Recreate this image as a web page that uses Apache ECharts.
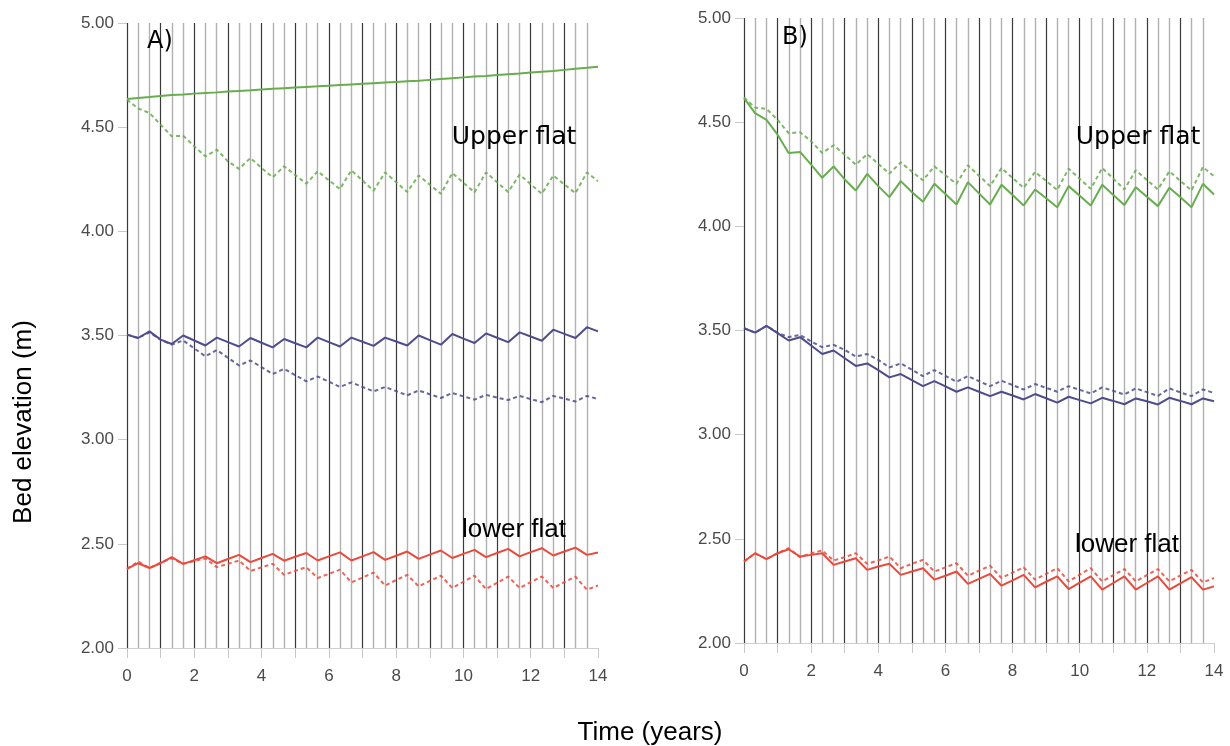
<!DOCTYPE html>
<html>
<head>
<meta charset="utf-8">
<title>Bed elevation</title>
<script src="https://cdn.jsdelivr.net/npm/echarts@6/dist/echarts.min.js"></script>
<style>
  html, body { margin: 0; padding: 0; background: #fff; }
  #chart { width: 1230px; height: 746px; }
</style>
</head>
<body>
<div id="chart"></div>
<script>
// time steps (years), one every 1/3 year
var time = [0, 0.33, 0.67, 1, 1.33, 1.67, 2, 2.33, 2.67, 3, 3.33, 3.67, 4, 4.33, 4.67,
  5, 5.33, 5.67, 6, 6.33, 6.67, 7, 7.33, 7.67, 8, 8.33, 8.67, 9, 9.33, 9.67,
  10, 10.33, 10.67, 11, 11.33, 11.67, 12, 12.33, 12.67, 13, 13.33, 13.67, 14];

var xTicks = [0, 2, 4, 6, 8, 10, 12, 14];
var yTicks = [2.00, 2.50, 3.00, 3.50, 4.00, 4.50, 5.00];

// panel A
var aUpperSolid = [4.635, 4.640, 4.645, 4.650, 4.654, 4.657, 4.661, 4.664, 4.667, 4.671, 4.674, 4.677, 4.681, 4.684, 4.687,
  4.690, 4.693, 4.696, 4.699, 4.702, 4.705, 4.708, 4.711, 4.714, 4.717, 4.720, 4.723, 4.727, 4.731, 4.735,
  4.739, 4.743, 4.746, 4.750, 4.754, 4.758, 4.762, 4.766, 4.770, 4.775, 4.780, 4.785, 4.790];
var aUpperDash = [4.632, 4.590, 4.568, 4.512, 4.456, 4.459, 4.408, 4.360, 4.392, 4.336, 4.300, 4.352, 4.304, 4.259, 4.312,
  4.270, 4.229, 4.288, 4.245, 4.203, 4.293, 4.244, 4.195, 4.283, 4.236, 4.189, 4.268, 4.224, 4.180, 4.280,
  4.233, 4.187, 4.283, 4.236, 4.189, 4.272, 4.226, 4.180, 4.268, 4.225, 4.183, 4.283, 4.240];
var aMidSolid = [3.504, 3.488, 3.520, 3.480, 3.459, 3.500, 3.476, 3.452, 3.490, 3.468, 3.447, 3.488, 3.465, 3.443, 3.483,
  3.463, 3.443, 3.490, 3.468, 3.447, 3.490, 3.470, 3.450, 3.490, 3.471, 3.452, 3.500, 3.478, 3.456, 3.507,
  3.485, 3.464, 3.510, 3.489, 3.468, 3.515, 3.495, 3.475, 3.528, 3.508, 3.488, 3.540, 3.520];
var aMidDash = [3.504, 3.488, 3.515, 3.480, 3.456, 3.476, 3.438, 3.400, 3.430, 3.393, 3.356, 3.380, 3.348, 3.315, 3.340,
  3.310, 3.280, 3.303, 3.278, 3.253, 3.275, 3.253, 3.232, 3.253, 3.233, 3.213, 3.236, 3.218, 3.200, 3.224,
  3.208, 3.192, 3.215, 3.202, 3.190, 3.210, 3.195, 3.180, 3.210, 3.197, 3.183, 3.210, 3.195];
var aLowerSolid = [2.380, 2.407, 2.384, 2.407, 2.436, 2.404, 2.422, 2.440, 2.407, 2.427, 2.447, 2.412, 2.432, 2.452, 2.419,
  2.438, 2.456, 2.420, 2.440, 2.459, 2.420, 2.440, 2.460, 2.423, 2.443, 2.463, 2.428, 2.448, 2.468, 2.432,
  2.452, 2.471, 2.436, 2.456, 2.476, 2.440, 2.460, 2.479, 2.444, 2.463, 2.482, 2.447, 2.458];
var aLowerDash = [2.380, 2.415, 2.384, 2.410, 2.430, 2.404, 2.417, 2.430, 2.388, 2.404, 2.420, 2.370, 2.387, 2.404, 2.351,
  2.370, 2.388, 2.336, 2.356, 2.376, 2.315, 2.338, 2.362, 2.300, 2.326, 2.351, 2.296, 2.322, 2.347, 2.288,
  2.318, 2.347, 2.283, 2.313, 2.343, 2.288, 2.316, 2.343, 2.288, 2.316, 2.343, 2.280, 2.300];

// panel B
var bUpperSolid = [4.615, 4.543, 4.511, 4.440, 4.352, 4.357, 4.296, 4.233, 4.288, 4.225, 4.172, 4.252, 4.193, 4.140, 4.217,
  4.165, 4.118, 4.204, 4.155, 4.105, 4.212, 4.158, 4.105, 4.200, 4.150, 4.100, 4.177, 4.135, 4.092, 4.193,
  4.147, 4.100, 4.200, 4.150, 4.102, 4.188, 4.142, 4.097, 4.185, 4.140, 4.092, 4.204, 4.153];
var bUpperDash = [4.618, 4.570, 4.564, 4.511, 4.447, 4.452, 4.408, 4.352, 4.389, 4.344, 4.296, 4.347, 4.300, 4.253, 4.307,
  4.263, 4.221, 4.288, 4.245, 4.204, 4.293, 4.243, 4.193, 4.280, 4.232, 4.185, 4.261, 4.218, 4.174, 4.277,
  4.228, 4.180, 4.280, 4.229, 4.177, 4.269, 4.223, 4.177, 4.264, 4.218, 4.172, 4.285, 4.240];
var bMidSolid = [3.511, 3.490, 3.522, 3.487, 3.452, 3.468, 3.428, 3.387, 3.404, 3.367, 3.330, 3.342, 3.310, 3.275, 3.291,
  3.262, 3.233, 3.257, 3.232, 3.206, 3.227, 3.206, 3.185, 3.206, 3.188, 3.169, 3.195, 3.175, 3.154, 3.182,
  3.166, 3.150, 3.177, 3.162, 3.146, 3.174, 3.160, 3.145, 3.177, 3.162, 3.146, 3.174, 3.160];
var bMidDash = [3.511, 3.490, 3.522, 3.490, 3.468, 3.479, 3.447, 3.420, 3.431, 3.407, 3.375, 3.387, 3.359, 3.323, 3.342,
  3.312, 3.281, 3.310, 3.282, 3.254, 3.281, 3.257, 3.233, 3.259, 3.238, 3.217, 3.243, 3.225, 3.206, 3.233,
  3.215, 3.198, 3.227, 3.210, 3.193, 3.222, 3.204, 3.186, 3.222, 3.203, 3.185, 3.217, 3.200];
var bLowerSolid = [2.391, 2.431, 2.403, 2.431, 2.450, 2.415, 2.423, 2.431, 2.375, 2.391, 2.407, 2.351, 2.367, 2.380, 2.327,
  2.343, 2.359, 2.304, 2.323, 2.343, 2.284, 2.308, 2.332, 2.275, 2.301, 2.327, 2.267, 2.294, 2.320, 2.259,
  2.290, 2.320, 2.256, 2.288, 2.320, 2.256, 2.288, 2.320, 2.256, 2.286, 2.316, 2.256, 2.272];
var bLowerDash = [2.391, 2.431, 2.403, 2.431, 2.455, 2.412, 2.431, 2.444, 2.396, 2.412, 2.431, 2.380, 2.396, 2.415, 2.359,
  2.380, 2.399, 2.343, 2.363, 2.383, 2.323, 2.347, 2.371, 2.312, 2.338, 2.363, 2.304, 2.332, 2.359, 2.296,
  2.328, 2.359, 2.296, 2.326, 2.355, 2.296, 2.326, 2.355, 2.296, 2.324, 2.351, 2.291, 2.312];

var GREEN = '#67ad4e';
var BLUE = '#4e4d8c';
var RED = '#ea4a3c';

function pairs(vals) {
  var out = [];
  for (var i = 0; i < time.length; i++) {
    out.push([time[i], vals[i]]);
  }
  return out;
}

function makeSeries(idx, vals, color, dashed) {
  return {
    type: 'line',
    xAxisIndex: idx,
    yAxisIndex: idx,
    data: pairs(vals),
    showSymbol: false,
    silent: true,
    z: 5,
    lineStyle: {
      color: color,
      width: 2,
      type: dashed ? [4, 3] : 'solid',
      opacity: dashed ? 0.85 : 1
    }
  };
}

function makeX(idx) {
  return {
    type: 'value',
    gridIndex: idx,
    min: 0,
    max: 14,
    interval: 1,
    axisLine: { show: true, lineStyle: { color: '#cfcfcf', width: 1 } },
    axisTick: { show: true, length: 10, lineStyle: { color: '#c8c8c8' } },
    axisLabel: {
      margin: 20,
      color: '#4a4a4a',
      fontSize: 17,
      fontFamily: 'Liberation Sans, Arial, sans-serif',
      formatter: function (v) {
        return xTicks.indexOf(v) >= 0 ? String(v) : '';
      }
    },
    splitLine: {
      show: true,
      showMaxLine: false,
      lineStyle: { color: '#3a3a3a', width: 1.2 }
    },
    minorTick: { show: false, splitNumber: 3 },
    minorSplitLine: {
      show: true,
      lineStyle: { color: '#b0b0b0', width: 1.4 }
    }
  };
}

function makeY(idx) {
  return {
    type: 'value',
    gridIndex: idx,
    min: 2,
    max: 5,
    interval: 0.5,
    axisLine: { show: false },
    axisTick: { show: true, length: 9, lineStyle: { color: '#c8c8c8' } },
    axisLabel: {
      margin: 13,
      color: '#4a4a4a',
      fontSize: 17,
      fontFamily: 'Liberation Sans, Arial, sans-serif',
      formatter: function (v) {
        return yTicks.indexOf(v) >= 0 ? v.toFixed(2) : '';
      }
    },
    splitLine: { show: false }
  };
}

var chart = echarts.init(document.getElementById('chart'), null, { renderer: 'canvas' });

var option = {
  backgroundColor: '#fff',
  animation: false,
  grid: [
    { left: 127, top: 23, width: 471, height: 625 },
    { left: 744, top: 18, width: 470, height: 625 }
  ],
  xAxis: [makeX(0), makeX(1)],
  yAxis: [makeY(0), makeY(1)],
  series: [
    makeSeries(0, aUpperSolid, GREEN, false),
    makeSeries(0, aUpperDash, GREEN, true),
    makeSeries(0, aMidSolid, BLUE, false),
    makeSeries(0, aMidDash, BLUE, true),
    makeSeries(0, aLowerSolid, RED, false),
    makeSeries(0, aLowerDash, RED, true),
    makeSeries(1, bUpperSolid, GREEN, false),
    makeSeries(1, bUpperDash, GREEN, true),
    makeSeries(1, bMidSolid, BLUE, false),
    makeSeries(1, bMidDash, BLUE, true),
    makeSeries(1, bLowerSolid, RED, false),
    makeSeries(1, bLowerDash, RED, true)
  ],
  graphic: [
    { type: 'text', x: 160, y: 42, z: 10, style: { text: 'A)', fill: '#000', font: '24px "DejaVu Sans", sans-serif', textAlign: 'center', textVerticalAlign: 'middle' } },
    { type: 'text', x: 795, y: 38, z: 10, style: { text: 'B)', fill: '#000', font: '24px "DejaVu Sans", sans-serif', textAlign: 'center', textVerticalAlign: 'middle' } },
    { type: 'text', x: 514, y: 137, z: 10, style: { text: 'Upper flat', fill: '#000', font: '25px "Comic Sans MS", "DejaVu Sans", sans-serif', textAlign: 'center', textVerticalAlign: 'middle' } },
    { type: 'text', x: 1138, y: 137, z: 10, style: { text: 'Upper flat', fill: '#000', font: '25px "Comic Sans MS", "DejaVu Sans", sans-serif', textAlign: 'center', textVerticalAlign: 'middle' } },
    { type: 'text', x: 514, y: 530, z: 10, style: { text: 'lower flat', fill: '#000', font: '26px "Liberation Sans", Arial, sans-serif', textAlign: 'center', textVerticalAlign: 'middle' } },
    { type: 'text', x: 1127, y: 545, z: 10, style: { text: 'lower flat', fill: '#000', font: '26px "Liberation Sans", Arial, sans-serif', textAlign: 'center', textVerticalAlign: 'middle' } },
    { type: 'text', x: 24, y: 422, rotation: Math.PI / 2, z: 10, style: { text: 'Bed elevation (m)', fill: '#000', font: '26px "Liberation Sans", Arial, sans-serif', textAlign: 'center', textVerticalAlign: 'middle' } },
    { type: 'text', x: 650, y: 733, z: 10, style: { text: 'Time (years)', fill: '#000', font: '26px "Liberation Sans", Arial, sans-serif', textAlign: 'center', textVerticalAlign: 'middle' } }
  ]
};

chart.setOption(option);
</script>
</body>
</html>
